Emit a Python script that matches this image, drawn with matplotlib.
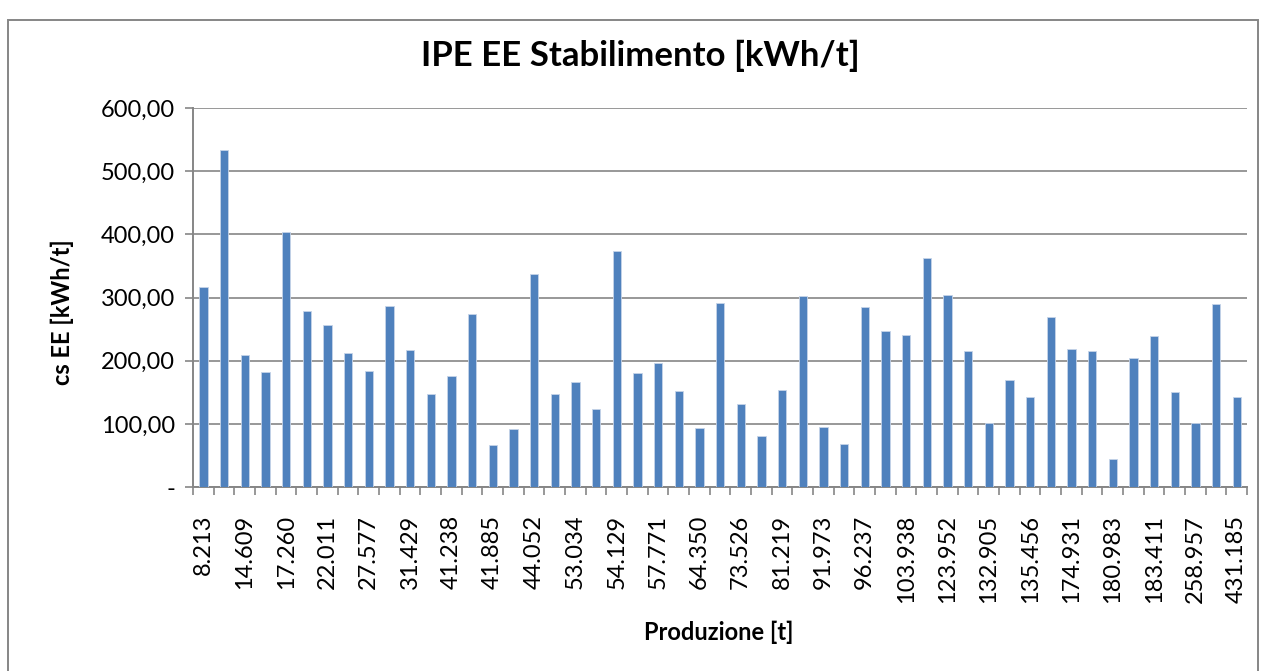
import matplotlib.pyplot as plt
import numpy as np
from matplotlib.patches import Rectangle
from matplotlib.ticker import FuncFormatter, FixedLocator

plt.rcParams.update({
    'font.family': ['Lato', 'DejaVu Sans'],
    'font.size': 17,
})

# visible category labels (Excel shows every second one)
shown_labels = ['8.213', '14.609', '17.260', '22.011', '27.577', '31.429', '41.238',
                '41.885', '44.052', '53.034', '54.129', '57.771', '64.350', '73.526',
                '81.219', '91.973', '96.237', '103.938', '123.952', '132.905', '135.456',
                '174.931', '180.983', '183.411', '258.957', '431.185']

cs_ee = [317, 533, 209, 182, 403, 278, 257, 212, 184, 286,
         217, 147, 176, 274, 66, 92, 337, 147, 166, 124,
         374, 181, 196, 152, 94, 291, 132, 80, 154, 302,
         95, 68, 285, 247, 241, 362, 304, 215, 101, 170,
         142, 269, 219, 216, 45, 204, 239, 151, 102, 290, 142]

bar_color = '#4F81BD'
grid_color = '#868686'

fig = plt.figure(figsize=(12.65, 6.71), dpi=100)
ax = fig.add_axes([0.1526, 0.2742, 0.8332, 0.5648])

x = np.arange(len(cs_ee))
ax.bar(x, cs_ee, width=0.4, color=bar_color, edgecolor='#C6D4E8', linewidth=0.6, zorder=3)

ax.set_xlim(-0.5, len(cs_ee) - 0.5)
ax.set_ylim(0, 600)
ax.set_yticks(np.arange(0, 601, 100))
ax.yaxis.set_major_formatter(FuncFormatter(
    lambda v, p: '-' if v == 0 else f'{v:,.2f}'.replace(',', 'X').replace('.', ',').replace('X', '.')))
ax.grid(axis='y', color=grid_color, linewidth=1.2, zorder=0)

# labels under every second bar, tick marks at category boundaries
ax.set_xticks(x[::2])
ax.set_xticklabels(shown_labels, rotation=90)
ax.tick_params(axis='x', which='major', length=0, pad=20)
ax.xaxis.set_minor_locator(FixedLocator(np.arange(-0.5, len(cs_ee), 1)))
ax.tick_params(axis='x', which='minor', length=6, width=1.2, color=grid_color)
ax.tick_params(axis='y', length=6, width=1.2, color=grid_color, pad=7)

for s in ['top', 'right']:
    ax.spines[s].set_visible(False)
for s in ['left', 'bottom']:
    ax.spines[s].set_color(grid_color)
    ax.spines[s].set_linewidth(1.4)

fig.text(62 / 1265, 1 - 312 / 671, 'cs EE [kWh/t]', ha='center', va='center',
         rotation=90, fontsize=17, fontweight='bold')
fig.text(719 / 1265, 1 - 632 / 671, 'Produzione [t]', ha='center', va='center',
         fontsize=17, fontweight='bold')
fig.text(640 / 1265, 1 - 56 / 671, 'IPE EE Stabilimento [kWh/t]', ha='center', va='center',
         fontsize=25, fontweight='bold')

fig.patches.append(Rectangle((8 / 1265, -0.05), 1250 / 1265, 1.035 - 10 / 671,
                             transform=fig.transFigure, fill=False,
                             edgecolor=grid_color, linewidth=1.4))

fig.savefig('out.png', dpi=100)
